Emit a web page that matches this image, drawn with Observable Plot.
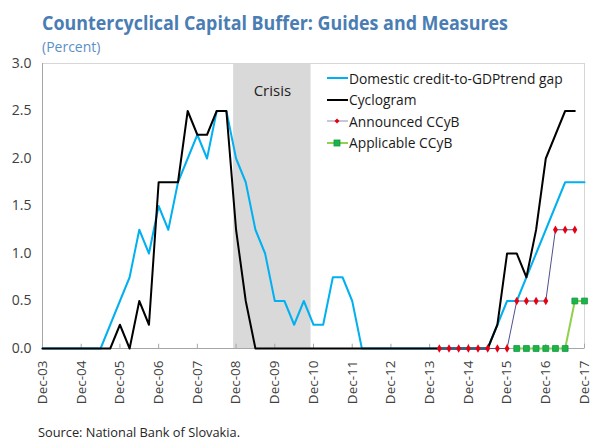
<!DOCTYPE html>
<html>
<head>
<meta charset="utf-8">
<script src="https://cdn.jsdelivr.net/npm/d3@7"></script>
<script src="https://cdn.jsdelivr.net/npm/@observablehq/plot@0.6"></script>
<style>
  html, body { margin: 0; padding: 0; background: #fff; }
  #wrap { position: relative; width: 590px; height: 441px; overflow: hidden; font-family: "Open Sans", sans-serif; }
  #title { position: absolute; left: 42px; top: 10px; font-size: 20px; line-height: 26px; font-weight: 700; color: #4a7db3; white-space: nowrap; transform-origin: 0 50%; }
  #subtitle { position: absolute; left: 42px; top: 37px; font-size: 14px; line-height: 20px; color: #5b8fc7; white-space: nowrap; }
  #chart { position: absolute; left: 0; top: 0; }
  #legend { position: absolute; left: 327px; top: 67px; font-size: 13.8px; color: #1a1a1a; }
  .lg-row { position: absolute; left: 0; height: 22px; display: flex; align-items: center; white-space: nowrap; }
  .lg-row svg { display: block; margin-right: 1px; }
  #source { position: absolute; left: 38px; top: 425px; font-size: 12.8px; line-height: 14px; color: #262626; white-space: nowrap; }
</style>
</head>
<body>
<div id="wrap">
  <div id="title">Countercyclical Capital Buffer: Guides and Measures</div>
  <div id="subtitle">(Percent)</div>
  <div id="chart"></div>
  <div id="legend"></div>
  <div id="source">Source: National Bank of Slovakia.</div>
</div>
<script>
// Quarterly categories
const quarters = [
  "Dec-03","Mar-04","Jun-04","Sep-04","Dec-04","Mar-05","Jun-05","Sep-05",
  "Dec-05","Mar-06","Jun-06","Sep-06","Dec-06","Mar-07","Jun-07","Sep-07",
  "Dec-07","Mar-08","Jun-08","Sep-08","Dec-08","Mar-09","Jun-09","Sep-09",
  "Dec-09","Mar-10","Jun-10","Sep-10","Dec-10","Mar-11","Jun-11","Sep-11",
  "Dec-11","Mar-12","Jun-12","Sep-12","Dec-12","Mar-13","Jun-13","Sep-13",
  "Dec-13","Mar-14","Jun-14","Sep-14","Dec-14","Mar-15","Jun-15","Sep-15",
  "Dec-15","Mar-16","Jun-16","Sep-16","Dec-16","Mar-17","Jun-17","Sep-17",
  "Dec-17"
];
const xTickLabels = ["Dec-03","Dec-04","Dec-05","Dec-06","Dec-07","Dec-08","Dec-09","Dec-10",
  "Dec-11","Dec-12","Dec-13","Dec-14","Dec-15","Dec-16","Dec-17"];
const yTicks = [0, 0.5, 1, 1.5, 2, 2.5, 3];

// Series (percent)
const creditGap = [
  0,0,0,0,0,0,0,0.25,
  0.5,0.75,1.25,1.0,1.5,1.25,1.75,2.0,
  2.25,2.0,2.5,2.5,2.0,1.75,1.25,1.0,
  0.5,0.5,0.25,0.5,0.25,0.25,0.75,0.75,
  0.5,0,0,0,0,0,0,0,
  0,0,0,0,0,0,0,0.25,
  0.5,0.5,0.75,1.0,1.25,1.5,1.75,1.75,
  1.75
];
const cyclogram = [
  0,0,0,0,0,0,0,0,
  0.25,0,0.5,0.25,1.75,1.75,1.75,2.5,
  2.25,2.25,2.5,2.5,1.25,0.5,0,0,
  0,0,0,0,0,0,0,0,
  0,0,0,0,0,0,0,0,
  0,0,0,0,0,0,0,0.25,
  1.0,1.0,0.75,1.25,2.0,2.25,2.5,2.5,
  null
];
const announced = [
  null,null,null,null,null,null,null,null,
  null,null,null,null,null,null,null,null,
  null,null,null,null,null,null,null,null,
  null,null,null,null,null,null,null,null,
  null,null,null,null,null,null,null,null,
  null,0,0,0,0,0,0,0,
  0,0.5,0.5,0.5,0.5,1.25,1.25,1.25,
  null
];
const applicable = [
  null,null,null,null,null,null,null,null,
  null,null,null,null,null,null,null,null,
  null,null,null,null,null,null,null,null,
  null,null,null,null,null,null,null,null,
  null,null,null,null,null,null,null,null,
  null,null,null,null,null,null,null,null,
  null,0,0,0,0,0,0,0.5,
  0.5
];
const crisisStart = "Dec-08";
const crisisEnd = "Dec-10";
const crisisLabel = "Crisis";
const seriesNames = ["Domestic credit-to-GDPtrend gap", "Cyclogram", "Announced CCyB", "Applicable CCyB"];

const C_GAP = "#00b0f0", C_CYC = "#000000", C_ANN_LINE = "#4f4f8f", C_ANN_DOT = "#e60012",
      C_APP_LINE = "#92d050", C_APP_DOT = "#1db34a", C_APP_DOT_STROKE = "#0b9a3c";

const rows = quarters.map((q, i) => ({i, q, gap: creditGap[i], cyc: cyclogram[i], ann: announced[i], app: applicable[i]}));
const idx = q => quarters.indexOf(q);
const tickIdx = xTickLabels.map(idx);
const shift = -0.25; // shading sits a quarter-of-a-period before the category
const crisis = [{x1: idx(crisisStart) + shift, x2: idx(crisisEnd) + shift}];

const plot = Plot.plot({
  width: 590,
  height: 420,
  marginTop: 63,
  marginLeft: 42,
  marginRight: 6,
  marginBottom: 72,
  style: {fontFamily: "Open Sans, sans-serif", fontSize: "13px", color: "#404040", background: "transparent", overflow: "visible"},
  x: {domain: [0, quarters.length - 1], axis: null},
  y: {domain: [yTicks[0], yTicks[yTicks.length - 1]], axis: null},
  marks: [
    Plot.rect(crisis, {x1: "x1", x2: "x2", y1: yTicks[0], y2: yTicks[yTicks.length - 1], fill: "#d9d9d9"}),
    Plot.text(crisis, {x: d => (d.x1 + d.x2) / 2, frameAnchor: "top", dy: 22, text: () => crisisLabel, fontSize: 15, fill: "#222"}),
    Plot.frame({stroke: "#d6d6d6"}),
    Plot.ruleX([0], {stroke: "#a6a6a6"}),
    Plot.ruleY([0], {stroke: "#a6a6a6"}),
    Plot.ruleX(tickIdx, {x: d => d, y1: 0, y2: 0.045, stroke: "#a6a6a6"}),
    Plot.line(rows.filter(d => d.gap != null), {x: "i", y: "gap", stroke: C_GAP, strokeWidth: 2}),
    Plot.line(rows.filter(d => d.cyc != null), {x: "i", y: "cyc", stroke: C_CYC, strokeWidth: 2}),
    Plot.line(rows.filter(d => d.ann != null), {x: "i", y: "ann", stroke: C_ANN_LINE, strokeWidth: 1}),
    Plot.dot(rows.filter(d => d.ann != null), {x: "i", y: "ann", symbol: "diamond", r: 2.6, fill: C_ANN_DOT}),
    Plot.line(rows.filter(d => d.app != null), {x: "i", y: "app", stroke: C_APP_LINE, strokeWidth: 2}),
    Plot.dot(rows.filter(d => d.app != null), {x: "i", y: "app", symbol: "square", r: 3.3, fill: C_APP_DOT, stroke: C_APP_DOT_STROKE, strokeWidth: 0.8}),
    Plot.axisY(yTicks, {tickSize: 0, tickPadding: 11, tickFormat: d3.format(".1f"), fontSize: 14, fill: "#404040"}),
    Plot.axisX(tickIdx, {tickSize: 0, tickPadding: 12, tickRotate: -90, tickFormat: i => quarters[i], fontSize: 13.5, fill: "#404040"})
  ]
});
document.getElementById("chart").appendChild(plot);

// Legend
const legend = document.getElementById("legend");
const legendItems = [
  {name: seriesNames[0], line: C_GAP, w: 2},
  {name: seriesNames[1], line: C_CYC, w: 2},
  {name: seriesNames[2], line: "#8f8fb8", w: 1, marker: "diamond"},
  {name: seriesNames[3], line: C_APP_LINE, w: 2, marker: "square"}
];
legendItems.forEach((it, k) => {
  const row = document.createElement("div");
  row.className = "lg-row";
  row.style.top = (k * 21.5) + "px";
  let mk = "";
  if (it.marker === "diamond") mk = `<path d="M10,7.5 L12.5,10 L10,12.5 L7.5,10 Z" fill="${C_ANN_DOT}"/>`;
  if (it.marker === "square") mk = `<rect x="7" y="7" width="6" height="6" fill="${C_APP_DOT}" stroke="${C_APP_DOT_STROKE}" stroke-width="0.8"/>`;
  row.innerHTML = `<svg width="21" height="20"><line x1="0" y1="10" x2="21" y2="10" stroke="${it.line}" stroke-width="${it.w}"/>${mk}</svg><span>${it.name}</span>`;
  legend.appendChild(row);
});

// Fit title width to reference
const t = document.getElementById("title");
const tw = t.getBoundingClientRect().width;
const target = 466;
if (tw > 0) t.style.transform = `scaleX(${target / tw})`;
</script>
</body>
</html>
